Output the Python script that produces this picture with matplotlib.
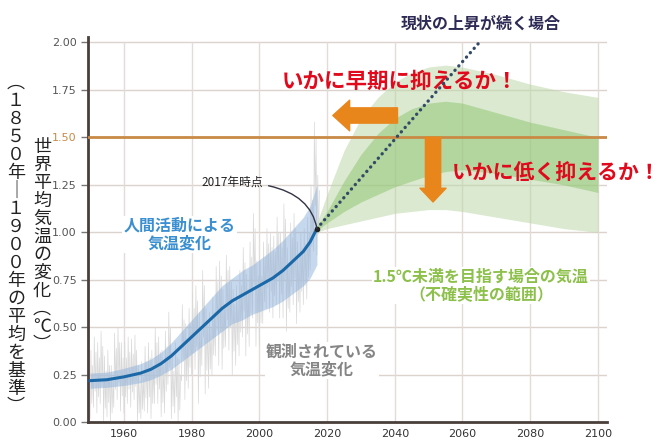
import numpy as np
import matplotlib
matplotlib.use("Agg")
import matplotlib.pyplot as plt

plt.rcParams['font.family'] = ['Noto Sans CJK JP', 'DejaVu Sans']

# human-induced warming (blue)
hum_years = [1950, 1955, 1960, 1965, 1968, 1971, 1974, 1977, 1980, 1983, 1986, 1989,
             1992, 1995, 1998, 2001, 2004, 2007, 2010, 2013, 2015, 2017]
hum_mid = [0.22, 0.225, 0.24, 0.26, 0.28, 0.31, 0.35, 0.40, 0.45, 0.50, 0.55, 0.60,
           0.64, 0.67, 0.70, 0.73, 0.76, 0.80, 0.85, 0.90, 0.95, 1.02]
hum_lo = [0.18, 0.185, 0.195, 0.21, 0.225, 0.25, 0.28, 0.32, 0.36, 0.40, 0.44, 0.48,
          0.52, 0.54, 0.57, 0.59, 0.61, 0.64, 0.68, 0.72, 0.76, 0.83]
hum_hi = [0.26, 0.265, 0.285, 0.31, 0.335, 0.37, 0.42, 0.48, 0.54, 0.60, 0.66, 0.72,
          0.76, 0.80, 0.83, 0.87, 0.91, 0.96, 1.02, 1.08, 1.14, 1.25]

# observed monthly spread, per year (gray)
obs_years = list(range(1950, 2018))
obs_hi = [0.38, 0.45, 0.42, 0.48, 0.35, 0.38, 0.30, 0.47, 0.50, 0.42,
          0.42, 0.45, 0.44, 0.46, 0.30, 0.32, 0.40, 0.42, 0.38, 0.50,
          0.45, 0.38, 0.48, 0.58, 0.35, 0.42, 0.33, 0.62, 0.52, 0.60,
          0.68, 0.72, 0.58, 0.80, 0.60, 0.58, 0.66, 0.82, 0.85, 0.70,
          0.88, 0.82, 0.70, 0.72, 0.80, 0.92, 0.78, 0.95, 1.10, 0.85,
          0.85, 0.95, 1.02, 1.00, 0.98, 1.08, 1.00, 1.15, 0.92, 1.05,
          1.10, 0.95, 1.00, 1.02, 1.08, 1.25, 1.58, 1.30]
obs_lo = [0.02, 0.08, 0.05, 0.10, 0.00, 0.03, 0.00, 0.08, 0.12, 0.06,
          0.05, 0.10, 0.08, 0.12, 0.00, 0.02, 0.06, 0.05, 0.02, 0.10,
          0.10, 0.03, 0.05, 0.20, 0.02, 0.05, 0.00, 0.22, 0.12, 0.18,
          0.25, 0.28, 0.10, 0.30, 0.15, 0.18, 0.25, 0.35, 0.30, 0.28,
          0.40, 0.38, 0.25, 0.30, 0.35, 0.45, 0.35, 0.40, 0.55, 0.40,
          0.40, 0.52, 0.60, 0.58, 0.55, 0.62, 0.55, 0.55, 0.48, 0.58,
          0.62, 0.52, 0.58, 0.62, 0.65, 0.80, 0.90, 0.88]

# 1.5C pathways (green)
sc_years = [2017, 2020, 2025, 2030, 2035, 2040, 2045, 2050, 2055, 2060, 2070, 2080, 2090, 2100]
outer_hi = [1.05, 1.20, 1.43, 1.60, 1.71, 1.79, 1.84, 1.87, 1.88, 1.87, 1.83, 1.78, 1.74, 1.71]
outer_lo = [1.00, 1.02, 1.04, 1.06, 1.08, 1.10, 1.11, 1.12, 1.12, 1.11, 1.08, 1.05, 1.02, 1.00]
inner_hi = [1.03, 1.11, 1.27, 1.41, 1.52, 1.60, 1.65, 1.68, 1.69, 1.68, 1.63, 1.58, 1.54, 1.50]
inner_lo = [1.01, 1.05, 1.11, 1.16, 1.20, 1.24, 1.27, 1.30, 1.32, 1.33, 1.31, 1.28, 1.25, 1.21]

# current trend continues
trend_years = [2017, 2065]
trend_vals = [1.02, 2.0]

x_ticks = [1960, 1980, 2000, 2020, 2040, 2060, 2080, 2100]
y_ticks = [0.0, 0.25, 0.5, 0.75, 1.0, 1.25, 1.5, 1.75, 2.0]

fig = plt.figure(figsize=(6.62, 4.41), dpi=100)
ax = fig.add_axes([0.133, 0.042, 0.784, 0.875])
ax.set_xlim(1949.4, 2102.7)
ax.set_ylim(0, 2.03)

for yv in y_ticks[1:]:
    ax.axhline(yv, color='#ddd3ce', lw=1, zorder=0)
for xv in x_ticks:
    ax.plot([xv, xv], [0, 2.0], color='#e2dcd8', lw=1, zorder=0)

# observed
zx, zy = [], []
for yr, lo, hi in zip(obs_years, obs_lo, obs_hi):
    zx += [yr, yr + 0.25, yr + 0.5, yr + 0.75]
    zy += [lo, hi, (lo + hi) / 2 - 0.1, hi - 0.08]
ax.plot(zx, zy, color='#d9d9d9', lw=0.5, zorder=1)

# green bands
ax.fill_between(sc_years, outer_lo, outer_hi, color='#bcd8a8', alpha=0.55, lw=0, zorder=2)
ax.fill_between(sc_years, inner_lo, inner_hi, color='#8cc46e', alpha=0.5, lw=0, zorder=2)

# blue band and line
ax.fill_between(hum_years, hum_lo, hum_hi, color='#8fb2dc', alpha=0.5, lw=0, zorder=3)
ax.plot(hum_years, hum_mid, color='#1a68a8', lw=2.2, zorder=4, solid_joinstyle='round')

ax.axhline(1.5, color='#c98a45', lw=2, zorder=5)

ax.plot(trend_years, trend_vals, color='#334a66', lw=2.4, ls=(0, (0.05, 1.7)),
        dash_capstyle='round', zorder=6, clip_on=False)
ax.plot([2017], [1.02], 'o', color='#222222', ms=3, zorder=7)

for s in ['top', 'right']:
    ax.spines[s].set_visible(False)
for s in ['left', 'bottom']:
    ax.spines[s].set_color('#4a3e3a')
    ax.spines[s].set_linewidth(2)

ax.set_xticks(x_ticks)
ax.set_xticklabels([str(v) for v in x_ticks], fontsize=8, color='#333333',
                   family=['Liberation Sans Narrow', 'DejaVu Sans'])
ax.set_yticks(y_ticks)
ax.set_yticklabels(['%.2f' % v for v in y_ticks], fontsize=8, color='#555555',
                   family=['Liberation Sans Narrow', 'DejaVu Sans'])
ax.tick_params(axis='x', length=0, pad=5)
ax.tick_params(axis='y', length=5, width=1, color='#777777', pad=3)
ax.get_yticklabels()[6].set_color('#c98a45')

# arrows
ax.annotate('', xy=(2021.7, 1.615), xytext=(2040.8, 1.615),
            arrowprops=dict(arrowstyle='simple,head_length=1.1,head_width=2.0,tail_width=1.0',
                            color='#e8861c', shrinkA=0, shrinkB=0, mutation_scale=11), zorder=8)
ax.annotate('', xy=(2051.3, 1.16), xytext=(2051.3, 1.5),
            arrowprops=dict(arrowstyle='simple,head_length=0.9,head_width=1.7,tail_width=1.0',
                            color='#e8861c', shrinkA=0, shrinkB=0, mutation_scale=11), zorder=8)

# texts
ax.text(2065.5, 2.1, '現状の上昇が続く場合', color='#2d2a55', fontsize=11.5,
        fontweight='bold', ha='center', va='center')
ax.text(2006.7, 1.795, 'いかに早期に抑えるか！', color='#e00a1c', fontsize=15.5,
        fontweight='bold', ha='left', va='center')
ax.text(2056.9, 1.315, 'いかに低く抑えるか！', color='#e00a1c', fontsize=15,
        fontweight='bold', ha='left', va='center', clip_on=False)
ax.annotate('2017年時点', xy=(2017, 1.02), xytext=(1992, 1.263), fontsize=8.5,
            color='#222222', ha='center', va='center',
            arrowprops=dict(arrowstyle='-', color='#333344', lw=1,
                            connectionstyle='angle3,angleA=0,angleB=-80',
                            shrinkA=2, shrinkB=0), zorder=8)
ax.text(1976.4, 0.99, '人間活動による\n気温変化', color='#3a8fd0', fontsize=11.5,
        fontweight='bold', ha='center', va='center', linespacing=1.15,
        bbox=dict(facecolor='white', edgecolor='none', pad=1), zorder=8)
ax.text(2018.5, 0.326, '観測されている\n気温変化', color='#858585', fontsize=11.5,
        fontweight='bold', ha='center', va='center', linespacing=1.15,
        bbox=dict(facecolor='white', edgecolor='none', pad=1), zorder=8)
ax.text(2065.5, 0.72, '1.5℃未満を目指す場合の気温\n（不確実性の範囲）', color='#8cc04a',
        fontsize=11.5, fontweight='bold', ha='center', va='center', linespacing=1.15,
        bbox=dict(facecolor='white', edgecolor='none', pad=1), zorder=8)

# vertical y label
lab1 = '世界平均気温の変化︵℃︶'
lab2 = '︵１８５０年｜１９００年の平均を基準︶'
fig.text(42 / 662, 1 - 246 / 441, '\n'.join(lab1), fontsize=13, color='#222222',
         ha='center', va='center', linespacing=1.0)
fig.text(16 / 662, 1 - 245 / 441, '\n'.join(lab2), fontsize=13, color='#222222',
         ha='center', va='center', linespacing=1.0)

fig.savefig('out.png', dpi=100)
